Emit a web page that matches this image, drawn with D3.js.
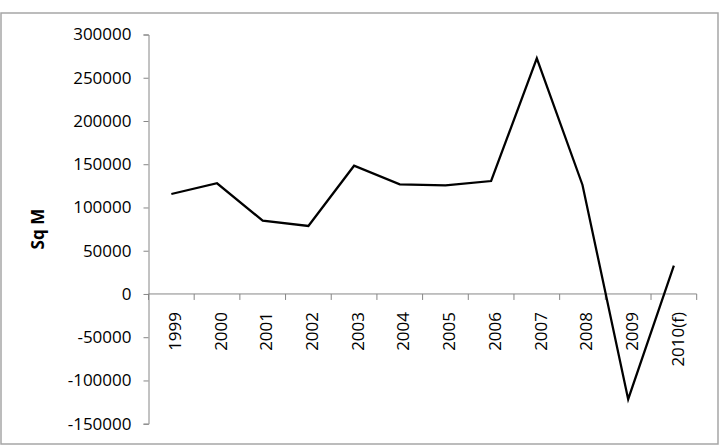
<!DOCTYPE html>
<html>
<head>
<meta charset="utf-8">
<script src="https://cdn.jsdelivr.net/npm/d3@7"></script>
<style>
  body { margin: 0; background: #fff; }
</style>
</head>
<body>
<div id="chart"></div>
<script>
const years = ['1999', '2000', '2001', '2002', '2003', '2004', '2005', '2006', '2007', '2008', '2009', '2010(f)'];
const sqm = [115600, 128000, 84700, 78600, 148300, 126800, 125700, 130600, 272500, 126000, -121700, 32700];
const yTicks = [-150000, -100000, -50000, 0, 50000, 100000, 150000, 200000, 250000, 300000];

const width = 723;
const height = 448;
const font = 'Open Sans, Liberation Sans, sans-serif';
const axisColor = '#868686';

const data = years.map((d, i) => ({ year: d, value: sqm[i] }));

const x = d3.scaleBand()
    .domain(years)
    .range([148.5, 696.7])
    .padding(0);

const y = d3.scaleLinear()
    .domain([-150000, 300000])
    .range([423.7, 34.5]);

const svg = d3.select('#chart')
    .append('svg')
    .attr('width', width)
    .attr('height', height);

// chart border
svg.append('rect')
    .attr('x', 1)
    .attr('y', 13)
    .attr('width', 717)
    .attr('height', 431)
    .attr('fill', 'none')
    .attr('stroke', '#a6a6a6')
    .attr('stroke-width', 1.5);

// y axis, plain hyphen for negatives like the original
const yAxis = svg.append('g')
    .attr('transform', `translate(${x.range()[0]}, 0)`)
    .call(d3.axisLeft(y).tickValues(yTicks).tickFormat(d => String(d)).tickSize(5).tickPadding(12));
yAxis.selectAll('path, line').attr('stroke', axisColor);
yAxis.selectAll('text')
    .attr('font-family', font)
    .attr('font-size', '17px')
    .attr('fill', '#000');

// x axis (ticks between categories, like Excel)
const xAxis = svg.append('g')
    .attr('transform', `translate(0, ${y(0)})`);
xAxis.append('line')
    .attr('x1', x.range()[0])
    .attr('x2', x.range()[1])
    .attr('stroke', axisColor);
const bounds = years.map(d => x(d)).concat([x.range()[1]]);
xAxis.selectAll('.tick')
    .data(bounds)
    .join('line')
    .attr('class', 'tick')
    .attr('x1', d => d)
    .attr('x2', d => d)
    .attr('y1', 0)
    .attr('y2', 6)
    .attr('stroke', axisColor);
xAxis.selectAll('text')
    .data(years)
    .join('text')
    .attr('transform', d => `translate(${x(d) + x.bandwidth() / 2}, 18) rotate(-90)`)
    .attr('dy', '0.57em')
    .attr('text-anchor', 'end')
    .attr('font-family', font)
    .attr('font-size', '17px')
    .attr('fill', '#000')
    .text(d => d);

// y axis title
svg.append('text')
    .attr('transform', `translate(38, ${(y.range()[0] + y.range()[1]) / 2}) rotate(-90)`)
    .attr('dy', '0.35em')
    .attr('text-anchor', 'middle')
    .attr('font-family', font)
    .attr('font-size', '17px')
    .attr('font-weight', 'bold')
    .text('Sq M');

// line
const line = d3.line()
    .x(d => x(d.year) + x.bandwidth() / 2)
    .y(d => y(d.value));

svg.append('path')
    .datum(data)
    .attr('fill', 'none')
    .attr('stroke', '#000')
    .attr('stroke-width', 2.25)
    .attr('stroke-linejoin', 'miter')
    .attr('d', line);
</script>
</body>
</html>
